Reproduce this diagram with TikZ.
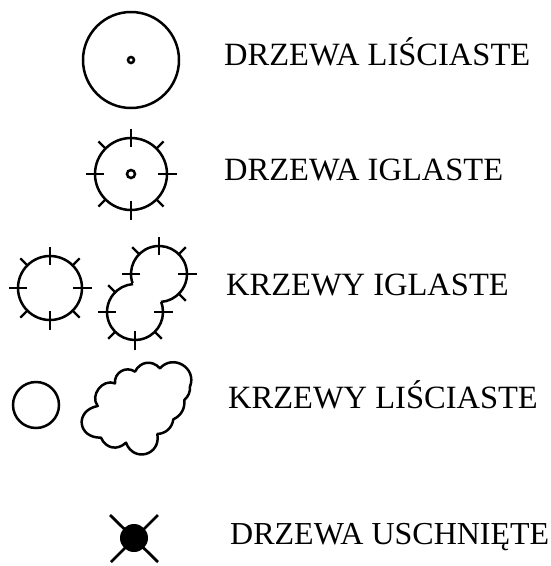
\documentclass[tikz,border=0pt]{standalone}
\usepackage{fontspec}
\setmainfont{Liberation Serif}
\usetikzlibrary{calc}
\newcommand{\fs}{\fontsize{32.5}{36}\selectfont}
\newcommand{\fsb}{\fontsize{32}{36}\selectfont}
\tikzset{
 sym/.style={line width=2.5pt,black},
 tick/.style={line width=2.8pt,black},
 diag/.style={line width=2.2pt,black},
 lobe/.style={bend left=#1,looseness=1.35},
 lab/.style={anchor=base west,inner sep=0pt,font=\fs,text=black}
}
\newcommand{\crossticks}[4]{% x, y, r, angle list
 \foreach \a in {#4}{\draw[tick] ($(#1,#2)+(\a:#3-9)$) -- ($(#1,#2)+(\a:#3+9.5)$);}}
\newcommand{\diagticks}[4]{%
 \foreach \a in {#4}{\draw[diag] ($(#1,#2)+(\a:#3)$) -- ($(#1,#2)+(\a:#3+10)$);}}
\begin{document}
\begin{tikzpicture}[x=1pt,y=-1pt]
\useasboundingbox (0,0) rectangle (551,566);
\draw[sym] (131,60) circle[radius=48];
\draw[sym] (131,60) circle[radius=3];
\draw[sym] (131,174) circle[radius=36];
\crossticks{131}{174}{36}{0,90,180,270}
\diagticks{131}{174}{36}{45,135,225,315}
\draw[sym] (131,174) circle[radius=4];
\draw[sym] (50,288) circle[radius=32];
\crossticks{50}{288}{32}{0,90,180,270}
\diagticks{50}{288}{32}{45,135,225,315}
% twin conifer shrub
\draw[sym] (159,274) ++(161:28) arc[start angle=161,end angle=446,radius=28];
\draw[sym] (135,312) ++(-21:28) arc[start angle=-21,end angle=266,radius=28];
\crossticks{159}{274}{28}{270,0,180}
\diagticks{159}{274}{28}{225,315,45}
\crossticks{135}{312}{28}{0,90,180}
\diagticks{135}{312}{28}{225,135,45}
\draw[sym] (36,405) circle[radius=23];
\begin{scope}[shift={(0,340)},x=0.3333pt,y=-0.3333pt]
\draw[sym,line join=round] (293,198)
 to[bend left=75,looseness=1.2] (345,130)
 to[bend left=65,looseness=1.2] (405,95)
 to[bend left=55,looseness=1.2] (480,85)
 to[bend left=80,looseness=1.45] (570,140)
 to[bend left=25] (553,180)
 to[bend left=35] (520,238)
 to[bend left=40] (472,282)
 to[bend left=85,looseness=1.7] (378,308)
 to[bend left=55,looseness=1.2] (303,293)
 to[bend left=85,looseness=1.9] (293,198) -- cycle;
\end{scope}
\fill[black] (134,538) circle[radius=14];
\draw[tick] (110,515) -- (158,562);
\draw[tick] (158,515) -- (111,562);
\node[lab] (a) at (224,65) {DRZEWA LIŚCIASTE};
\node[lab] (b) at (224,180) {DRZEWA IGLASTE};
\node[lab] (c) at (226,295) {KRZEWY IGLASTE};
\node[lab] (d) at (228,408) {KRZEWY LIŚCIASTE};
\node[lab,font=\fsb] (e2) at (230,544) {DRZEWA USCHNIĘTE};
\end{tikzpicture}
\end{document}
